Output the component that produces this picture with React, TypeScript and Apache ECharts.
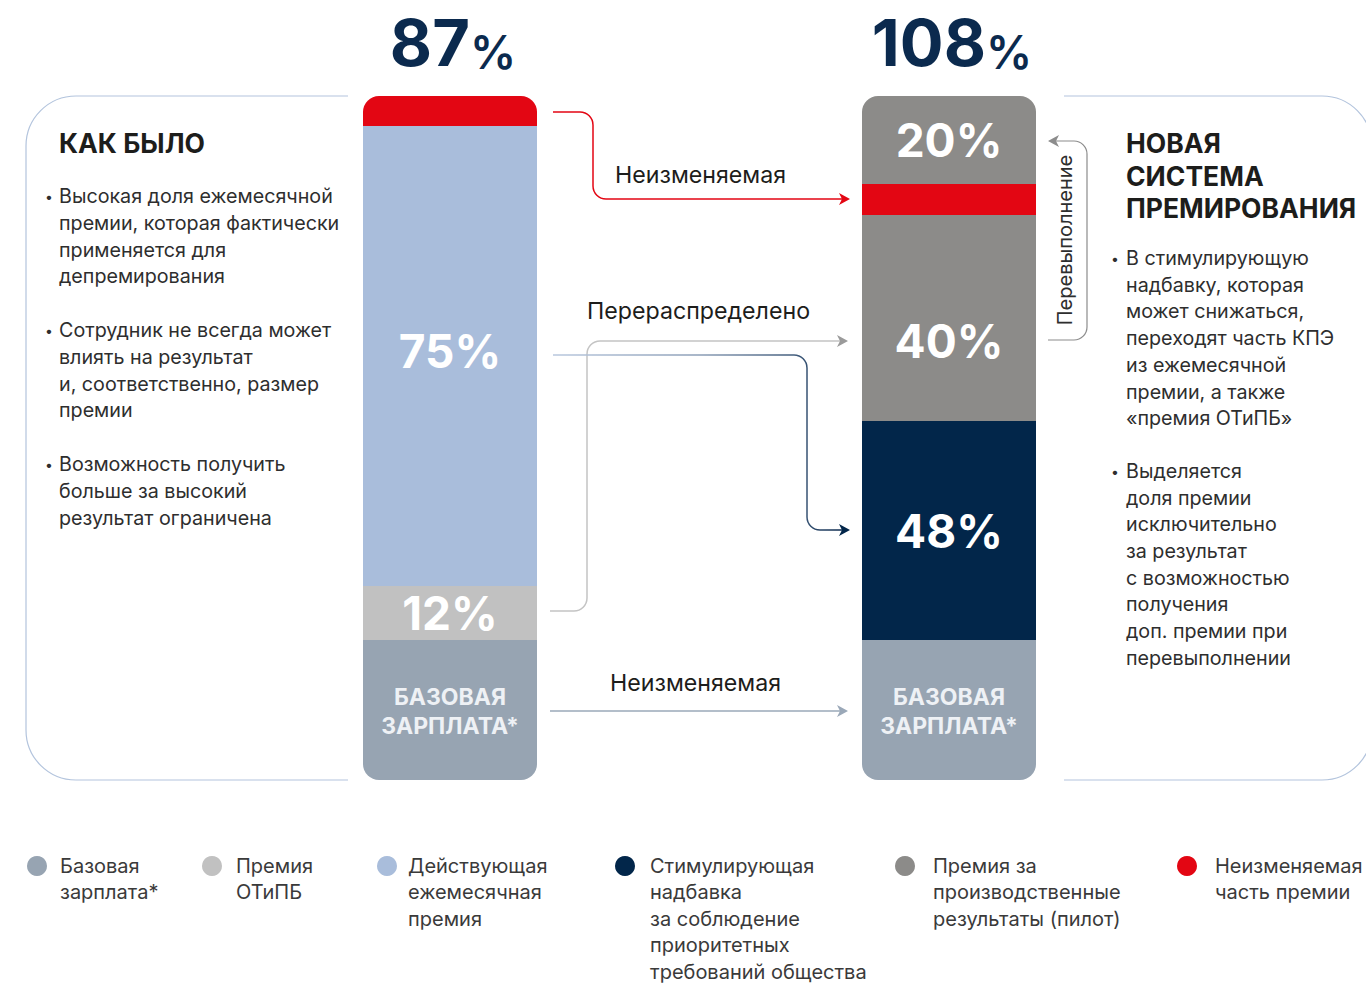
import React, { useEffect, useRef } from 'react';
import * as echarts from 'echarts';

// ---------- DATA ----------
const categories = ['Как было', 'Новая система премирования'];
// segment heights (visual share of each bar)
const baseSalary = [140, 140];
const otipbPremium = [54, 0];
const monthlyPremium = [460, 0];
const stimulBonus = [0, 219];
const pilotPremium = [0, 206];
const fixedPart = [30, 31];
const overPart = [0, 88];
const totalsZero = [0, 0];

const baseLabels = ['БАЗОВАЯ\nЗАРПЛАТА*', 'БАЗОВАЯ\nЗАРПЛАТА*'];
const otipbLabels = ['12%', ''];
const monthlyLabels = ['75%', ''];
const stimulLabels = ['', '48%'];
const pilotLabels = ['', '40%'];
const fixedLabels = ['', ''];
const overLabels = ['', '20%'];
const totalLabels = ['87', '108'];

const seriesNames = [
  'Базовая зарплата*',
  'Премия ОТиПБ',
  'Действующая ежемесячная премия',
  'Стимулирующая надбавка за соблюдение приоритетных требований общества',
  'Премия за производственные результаты (пилот)',
  'Неизменяемая часть премии',
];
const legendLines = [
  'Базовая\nзарплата*',
  'Премия\nОТиПБ',
  'Действующая\nежемесячная\nпремия',
  'Стимулирующая\nнадбавка\nза соблюдение\nприоритетных\nтребований общества',
  'Премия за\nпроизводственные\nрезультаты (пилот)',
  'Неизменяемая\nчасть премии',
];

const leftTitle = 'КАК БЫЛО';
const leftBullets = [
  'Высокая доля ежемесячной\nпремии, которая фактически\nприменяется для\nдепремирования',
  'Сотрудник не всегда может\nвлиять на результат\nи, соответственно, размер\nпремии',
  'Возможность получить\nбольше за высокий\nрезультат ограничена',
];
const rightTitle = 'НОВАЯ\nСИСТЕМА\nПРЕМИРОВАНИЯ';
const rightBullets = [
  'В стимулирующую\nнадбавку, которая\nможет снижаться,\nпереходят часть КПЭ\nиз ежемесячной\nпремии, а также\n«премия ОТиПБ»',
  'Выделяется\nдоля премии\nисключительно\nза результат\nс возможностью\nполучения\nдоп. премии при\nперевыполнении',
];
const flowLabels = ['Неизменяемая', 'Перераспределено', 'Неизменяемая', 'Перевыполнение'];

// ---------- STYLE ----------
const FONT = 'Inter';
const C = {
  base: '#97a4b2',
  otipb: '#c1c1c1',
  monthly: '#a9bddb',
  stimul: '#02264a',
  pilot: '#8c8b89',
  red: '#e30613',
  navyText: '#0b2a4e',
  panel: '#b3c4dd',
  text: '#1d1d1b',
  body: '#2e2e2e',
  legend: '#3a3a3a',
};

// annotation geometry
echarts.graphic.registerShape('panelLeft', echarts.graphic.extendPath('M348,96 H76 A50,50 0 0 0 26,146 V730 A50,50 0 0 0 76,780 H348', {}));
echarts.graphic.registerShape('panelRight', echarts.graphic.extendPath('M1064,96 H1322 A50,50 0 0 1 1372,146 V730 A50,50 0 0 1 1322,780 H1064', {}));
echarts.graphic.registerShape('flowRed', echarts.graphic.extendPath('M553,112 H580 A13,13 0 0 1 593,125 V186 A13,13 0 0 0 606,199 H843', {}));
echarts.graphic.registerShape('flowGray', echarts.graphic.extendPath('M550,611 H574 A13,13 0 0 0 587,598 V354 A13,13 0 0 1 600,341 H841', {}));
echarts.graphic.registerShape('flowNavy', echarts.graphic.extendPath('M553,355 H794 A13,13 0 0 1 807,368 V517 A13,13 0 0 0 820,530 H843', {}));
echarts.graphic.registerShape('flowBase', echarts.graphic.extendPath('M550,711 H841', {}));
echarts.graphic.registerShape('flowOver', echarts.graphic.extendPath('M1055,141 H1074 A13,13 0 0 1 1087,154 V327 A13,13 0 0 1 1074,340 H1048', {}));

function arrowHead(tx: number, ty: number, dir: number, color: string) {
  const d = dir;
  return {
    type: 'polygon',
    silent: true,
    shape: { points: [[tx, ty], [tx - 11 * d, ty - 6], [tx - 8 * d, ty], [tx - 11 * d, ty + 6]] },
    style: { fill: color },
  };
}

function stroke(type: string, color: any, w = 1.5) {
  return { type, silent: true, style: { fill: 'none', stroke: color, lineWidth: w } };
}

function txt(text: string, x: number, y: number, size: number, opts: any = {}) {
  return {
    type: 'text',
    silent: true,
    x: opts.ex || 0,
    y: opts.ey || 0,
    rotation: opts.rotation || 0,
    style: {
      text,
      x,
      y,
      fontFamily: FONT,
      fontSize: size,
      fontWeight: opts.weight || 400,
      fill: opts.color || C.body,
      lineHeight: opts.lineHeight || size * 1.4,
      align: opts.align || 'left',
      verticalAlign: opts.va || 'top',
    },
  };
}

export default function App() {
  const ref = useRef<HTMLDivElement>(null);
  useEffect(() => {
    if (!ref.current) return;
    const chart = echarts.init(ref.current, null, { renderer: 'svg' });

    const stackOrder = [baseSalary, otipbPremium, monthlyPremium, stimulBonus, pilotPremium, fixedPart, overPart];
    const topIdx = categories.map((_, ci) => {
      let t = 0;
      stackOrder.forEach((arr, si) => { if (arr[ci] > 0) t = si; });
      return t;
    });
    const R = 16;

    const mk = (name: string, arr: number[], si: number, labels: string[], color: string, labelExtra: any = {}) => ({
      type: 'bar',
      name,
      stack: 'total',
      barWidth: 174,
      silent: true,
      itemStyle: { color },
      data: arr.map((v, ci) => ({
        value: v,
        itemStyle: {
          borderRadius: si === 0 ? [0, 0, R, R] : topIdx[ci] === si ? [R, R, 0, 0] : 0,
        },
      })),
      label: {
        show: true,
        position: 'inside',
        formatter: (p: any) => labels[p.dataIndex],
        fontFamily: FONT,
        fontSize: 46,
        fontWeight: 700,
        color: '#ffffff',
        ...labelExtra,
      },
    });

    const series: any[] = [
      mk(seriesNames[0], baseSalary, 0, baseLabels, C.base, { fontSize: 23, lineHeight: 29, color: '#eef1f5', offset: [0, 1] }),
      mk(seriesNames[1], otipbPremium, 1, otipbLabels, C.otipb),
      mk(seriesNames[2], monthlyPremium, 2, monthlyLabels, C.monthly, { offset: [0, -5] }),
      mk(seriesNames[3], stimulBonus, 3, stimulLabels, C.stimul),
      mk(seriesNames[4], pilotPremium, 4, pilotLabels, C.pilot, { offset: [0, 23] }),
      mk(seriesNames[5], fixedPart, 5, fixedLabels, C.red),
      mk(seriesNames[4], overPart, 6, overLabels, C.pilot),
      {
        type: 'bar',
        name: 'Итого',
        stack: 'total',
        barWidth: 174,
        silent: true,
        data: totalsZero,
        label: {
          show: true,
          position: 'top',
          distance: 21,
          offset: [3, 0],
          formatter: (p: any) => `{n|${totalLabels[p.dataIndex]}}{p|%}`,
          rich: {
            n: { fontFamily: FONT, fontSize: 65, fontWeight: 700, color: C.navyText, lineHeight: 64, verticalAlign: 'bottom' },
            p: { fontFamily: FONT, fontSize: 46, fontWeight: 600, color: C.navyText, lineHeight: 51, verticalAlign: 'bottom' },
          },
        },
      },
    ];

    const legendPos = [
      { left: 27, pad: 8 },
      { left: 202, pad: 9 },
      { left: 377, pad: 6 },
      { left: 615, pad: 10 },
      { left: 895, pad: 13 },
      { left: 1177, pad: 13 },
    ];
    const iconTop = 856;
    const LH = 26.4;
    const legends = seriesNames.map((name, i) => {
      const n = legendLines[i].split('\n').length;
      const m = 2 * n - 1;
      const boxTop = 10 - (LH * m) / 2;
      return {
        data: [name],
        left: legendPos[i].left,
        top: iconTop + boxTop,
        padding: 0,
        icon: 'circle',
        itemWidth: 20,
        itemHeight: 20,
        selectedMode: false,
        formatter: () => '\n'.repeat(n - 1) + legendLines[i],
        textStyle: {
          fontFamily: FONT,
          fontSize: 20,
          lineHeight: LH,
          color: C.legend,
          padding: [0, 0, 0, legendPos[i].pad],
        },
      };
    });

    const navyGrad = new echarts.graphic.LinearGradient(0, 0, 1, 0, [
      { offset: 0, color: '#b9c8de' },
      { offset: 0.5, color: '#8ea0b8' },
      { offset: 0.85, color: '#3f5a7a' },
      { offset: 1, color: '#0b2a4e' },
    ]);

    const BODY = 19.7;
    const FLOW = 23.2;
    const graphic: any[] = [
      stroke('panelLeft', C.panel, 1.2),
      stroke('panelRight', C.panel, 1.2),
      stroke('flowRed', C.red, 1.5),
      arrowHead(850, 199, 1, C.red),
      stroke('flowGray', '#c4c4c4', 1.5),
      arrowHead(848, 341, 1, '#9a9a9a'),
      stroke('flowNavy', navyGrad, 1.5),
      arrowHead(850, 530, 1, C.stimul),
      stroke('flowBase', '#9aa8b8', 1.5),
      arrowHead(848, 711, 1, '#9aa8b8'),
      stroke('flowOver', '#8c8c8c', 1.2),
      arrowHead(1048, 141, -1, '#8c8c8c'),
      txt(leftTitle, 59, 143, 26.5, { weight: 700, color: C.text, va: 'middle' }),
      ...leftBullets.flatMap((b, i) => {
        const tops = [182.5, 316.5, 450.5];
        return [
          txt('•', 45, tops[i], 14, { lineHeight: 27, color: C.body }),
          txt(b, 59, tops[i], BODY, { lineHeight: 26.8, color: C.body }),
        ];
      }),
      txt(rightTitle, 1126, 126.75, 26.5, { weight: 700, color: C.text, lineHeight: 32.5 }),
      ...rightBullets.flatMap((b, i) => {
        const tops = [244.7, 457.6];
        return [
          txt('•', 1111, tops[i], 14, { lineHeight: 27, color: C.body }),
          txt(b, 1126, tops[i], BODY, { lineHeight: 26.7, color: C.body }),
        ];
      }),
      txt(flowLabels[0], 615, 175, FLOW, { color: C.text, va: 'middle' }),
      txt(flowLabels[1], 587, 311, FLOW, { color: C.text, va: 'middle' }),
      txt(flowLabels[2], 610, 683, FLOW, { color: C.text, va: 'middle' }),
      txt(flowLabels[3], 0, 0, 20, { color: C.body, va: 'middle', align: 'center', ex: 1065, ey: 240, rotation: Math.PI / 2 }),
    ];

    chart.setOption({
      animation: false,
      textStyle: { fontFamily: FONT },
      grid: { left: 200.5, right: 167.5, top: 96, bottom: 205, containLabel: false },
      xAxis: { type: 'category', data: categories, show: false },
      yAxis: { type: 'value', min: 0, max: 684, show: false },
      legend: legends,
      tooltip: { show: false },
      series,
      graphic,
    });
    return () => chart.dispose();
  }, []);
  return <div ref={ref} style={{ position: 'absolute', left: 0, top: 0, width: 1366, height: 985, background: '#ffffff' }} />;
}
